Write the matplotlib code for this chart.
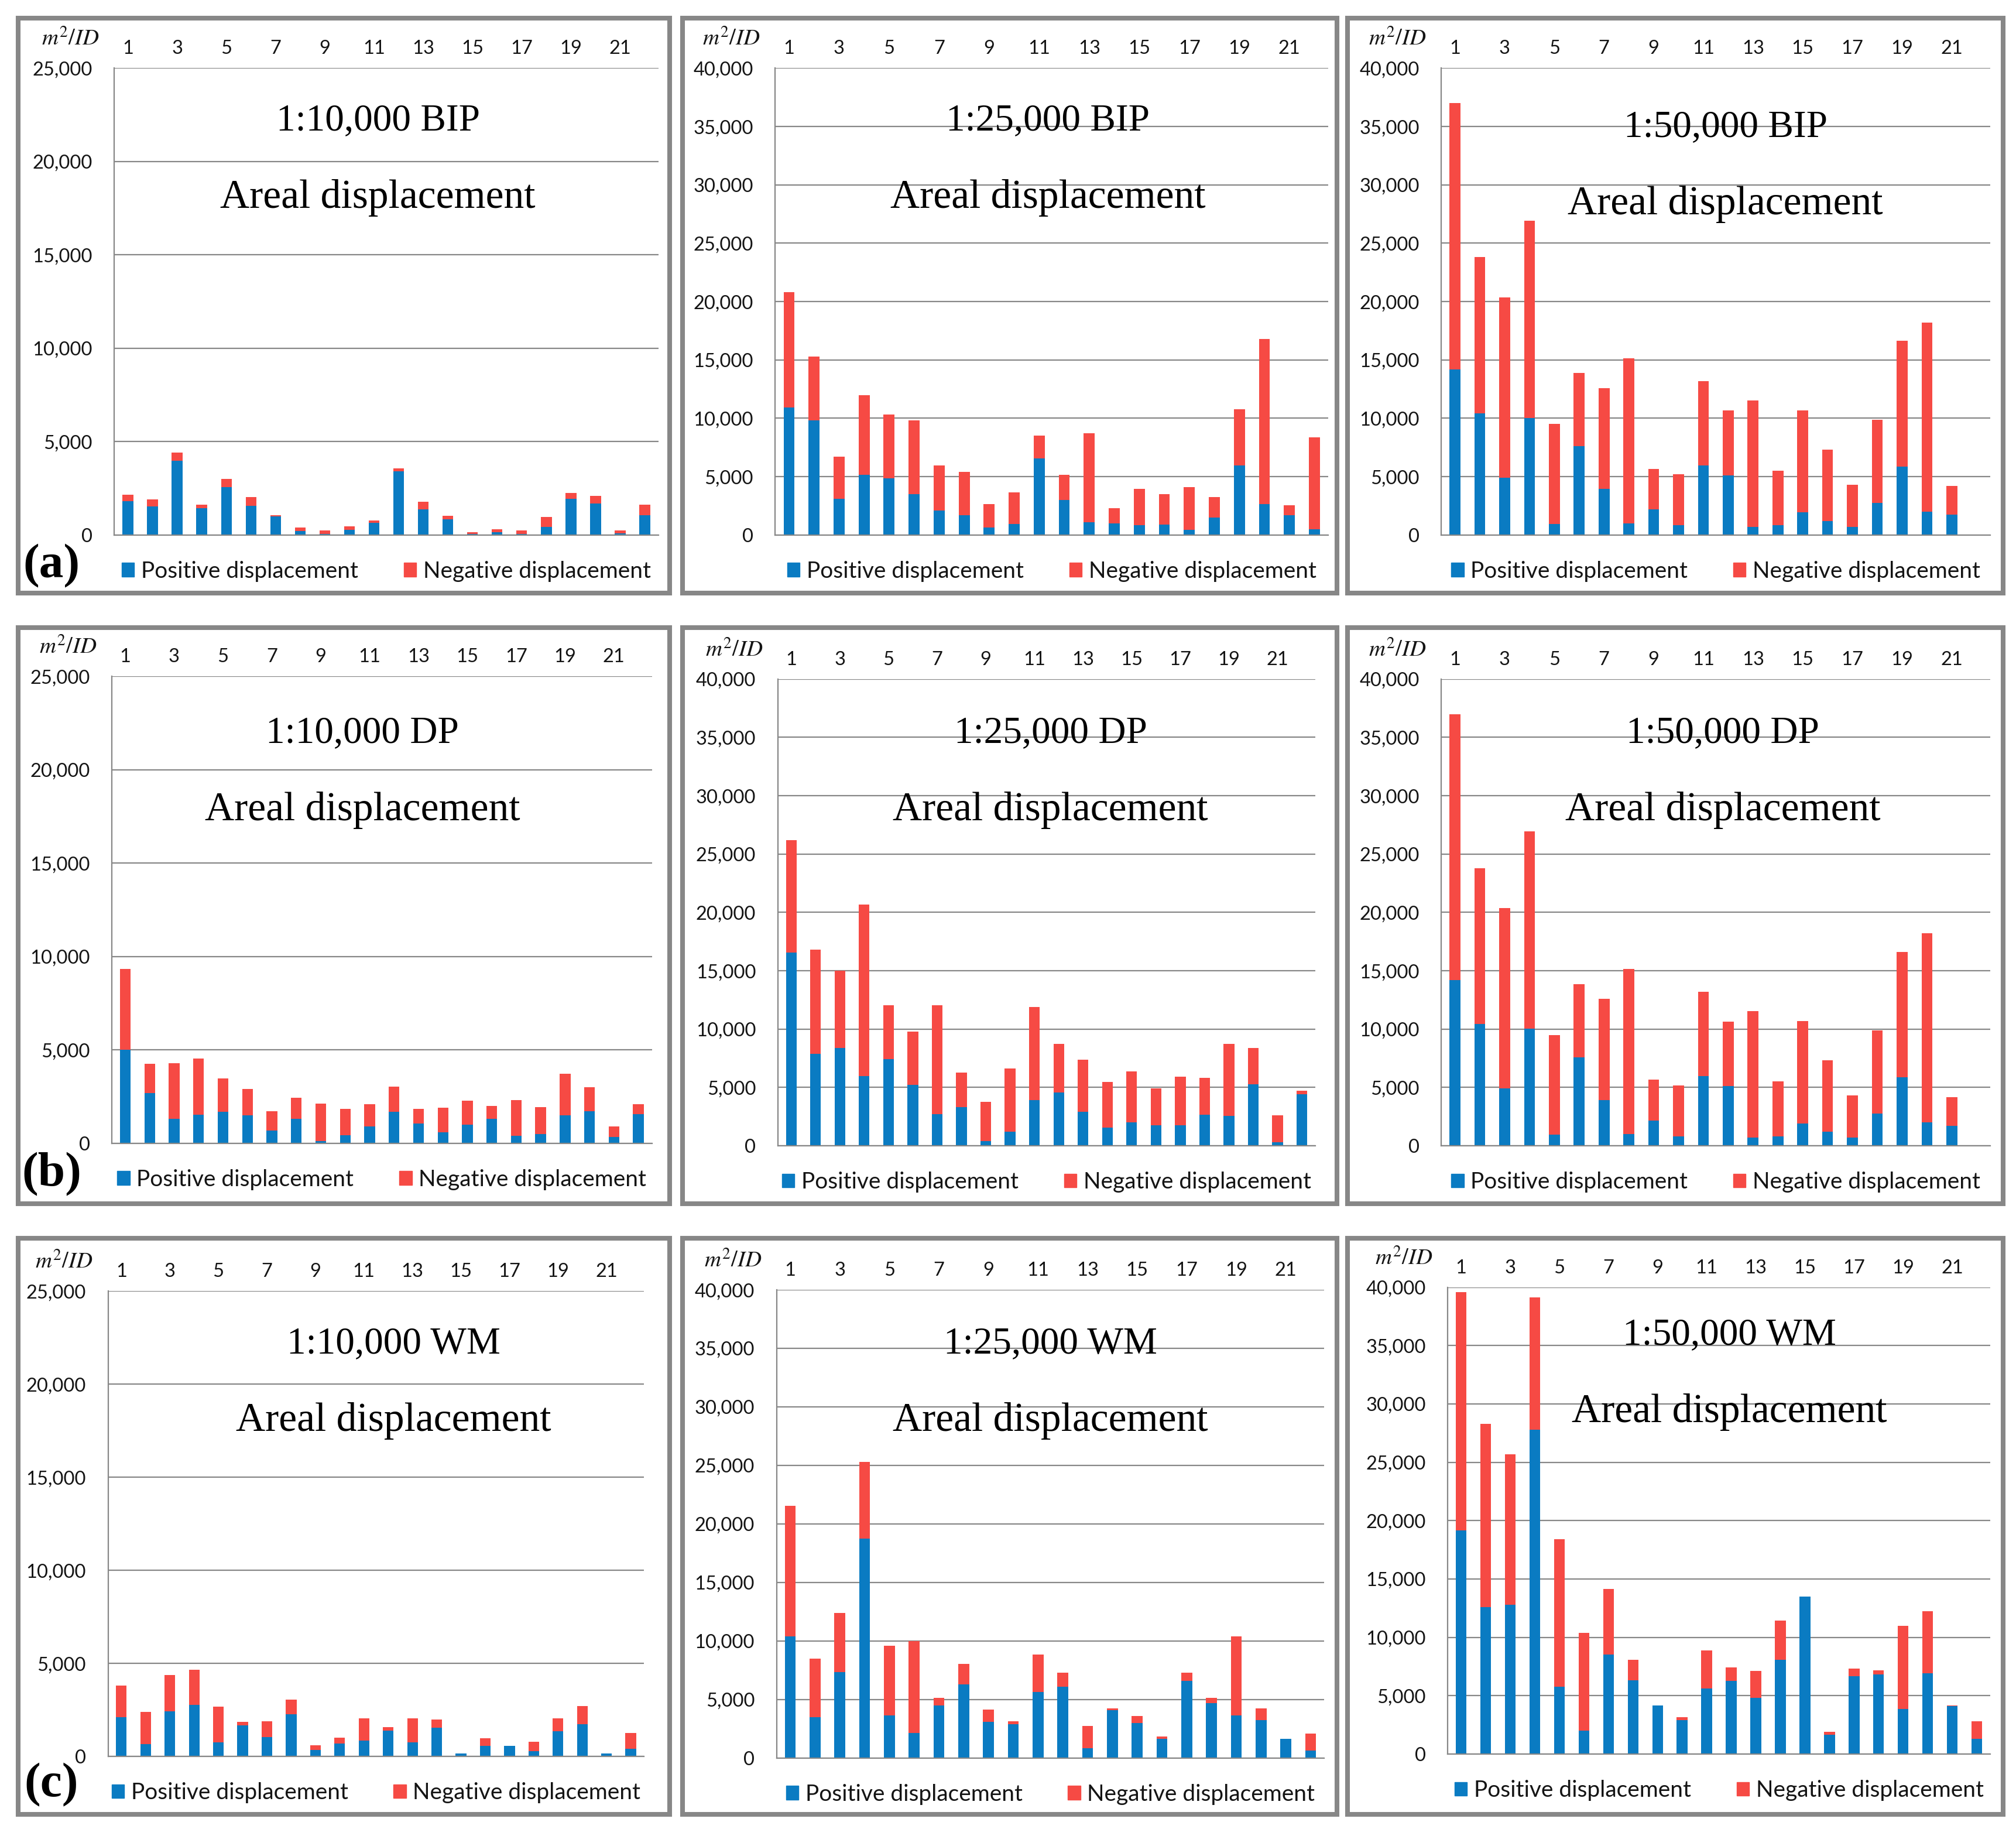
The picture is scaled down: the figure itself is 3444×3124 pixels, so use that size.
import matplotlib
matplotlib.use("Agg")
import matplotlib.pyplot as plt
from matplotlib.patches import Rectangle, Patch
from matplotlib.ticker import FuncFormatter

plt.rcParams['font.family'] = ['Lato', 'DejaVu Sans']
plt.rcParams['mathtext.fontset'] = 'stix'

ids = list(range(1, 23))
tick_ids = [1, 3, 5, 7, 9, 11, 13, 15, 17, 19, 21]

# 1:10,000 BIP
pos_10k_bip = [1810, 1530, 3970, 1430, 2550, 1570, 980, 200, 40, 270, 650, 3420, 1380, 830, 40, 160, 40, 430, 1940, 1670, 80, 1060]
neg_10k_bip = [350, 370, 430, 200, 440, 450, 80, 190, 200, 180, 120, 160, 390, 210, 100, 150, 200, 530, 300, 430, 160, 550]
# 1:25,000 BIP
pos_25k_bip = [10940, 9800, 3100, 5160, 4870, 3520, 2100, 1670, 630, 940, 6570, 2990, 1070, 1000, 850, 910, 440, 1510, 5940, 2640, 1670, 470]
neg_25k_bip = [9860, 5500, 3600, 6840, 5430, 6320, 3840, 3740, 2010, 2710, 1920, 2170, 7640, 1300, 3080, 2610, 3680, 1730, 4850, 14160, 880, 7890]
# 1:50,000 BIP (only 21 objects)
pos_50k_bip = [14200, 10440, 4900, 10030, 940, 7600, 3930, 1000, 2170, 820, 5970, 5100, 690, 820, 1920, 1190, 690, 2740, 5880, 2010, 1730]
neg_50k_bip = [22800, 13360, 15450, 16920, 8560, 6270, 8650, 14160, 3490, 4370, 7230, 5560, 10850, 4680, 8770, 6140, 3620, 7130, 10750, 16190, 2450]

# 1:10,000 DP
pos_10k_dp = [5000, 2690, 1300, 1540, 1680, 1500, 690, 1300, 120, 430, 910, 1680, 1050, 570, 1000, 1300, 410, 490, 1500, 1700, 320, 1560]
neg_10k_dp = [4340, 1560, 2990, 3000, 1780, 1400, 1030, 1130, 2010, 1410, 1180, 1340, 790, 1330, 1270, 690, 1900, 1450, 2230, 1300, 570, 530]
# 1:25,000 DP
pos_25k_dp = [16540, 7860, 8370, 5970, 7420, 5210, 2720, 3310, 410, 1230, 3910, 4550, 2900, 1580, 1990, 1770, 1770, 2650, 2560, 5270, 280, 4420]
neg_25k_dp = [9630, 8940, 6630, 14680, 4610, 4580, 9310, 2970, 3350, 5400, 7960, 4160, 4460, 3910, 4360, 3150, 4170, 3160, 6150, 3100, 2310, 320]
# 1:50,000 DP
pos_50k_dp = [14200, 10440, 4900, 10030, 940, 7600, 3930, 1000, 2170, 820, 5970, 5100, 690, 820, 1920, 1190, 690, 2740, 5880, 2010, 1730]
neg_50k_dp = [22800, 13360, 15450, 16920, 8560, 6270, 8650, 14160, 3490, 4370, 7230, 5560, 10850, 4680, 8770, 6140, 3620, 7130, 10750, 16190, 2450]

# 1:10,000 WM
pos_10k_wm = [2110, 670, 2420, 2780, 770, 1670, 1040, 2270, 350, 710, 870, 1380, 770, 1540, 160, 590, 590, 280, 1360, 1750, 180, 430]
neg_10k_wm = [1690, 1730, 1970, 1890, 1910, 200, 870, 800, 260, 310, 1200, 200, 1300, 450, 0, 380, 0, 510, 710, 950, 0, 850]
# 1:25,000 WM
pos_25k_wm = [10400, 3470, 7310, 18750, 3620, 2140, 4480, 6300, 3060, 2870, 5610, 6080, 850, 4070, 2990, 1610, 6590, 4700, 3620, 3250, 1640, 630]
neg_25k_wm = [11160, 5010, 5080, 6530, 5960, 7820, 660, 1740, 1070, 250, 3210, 1200, 1860, 180, 570, 220, 690, 440, 6750, 970, 0, 1450]
# 1:50,000 WM
pos_50k_wm = [19180, 12600, 12790, 27810, 5760, 2020, 8540, 6330, 4160, 2900, 5640, 6270, 4820, 8060, 13480, 1640, 6680, 6830, 3870, 6930, 4090, 1320]
neg_50k_wm = [20410, 15680, 12880, 11340, 12670, 8370, 5600, 1760, 0, 250, 3240, 1160, 2300, 3370, 0, 250, 630, 350, 7090, 5290, 70, 1510]

BLUE = '#0a7bc2'
RED = '#f64a44'
GRAY = '#878787'
TXT = '#141414'

W, H = 1568.0, 1422.3   # layout measured in a 1568 px wide copy of the figure

fig = plt.figure(figsize=(34.44, 31.24), dpi=100)

def fx(x):
    return x / W

def fy(y):
    return 1 - y / H

# panel frames
cols = [(14, 521), (531, 1040), (1048, 1558)]
rows = [(14, 461), (488, 936), (963, 1411)]
for (x0, x1) in cols:
    for (y0, y1) in rows:
        fig.patches.append(Rectangle((fx(x0), fy(y1)), fx(x1) - fx(x0), fy(y0) - fy(y1),
                                     transform=fig.transFigure, fill=False,
                                     edgecolor=GRAY, linewidth=5.8, zorder=0))

panels = [
    # name, pos, neg, ymax, axes box (x0, x1, ytop, ybottom), title y, title x
    ("1:10,000 BIP", pos_10k_bip, neg_10k_bip, 25000, (89, 512, 53, 416), 94, 294),
    ("1:25,000 BIP", pos_25k_bip, neg_25k_bip, 40000, (603, 1033, 53, 416), 94, 815),
    ("1:50,000 BIP", pos_50k_bip, neg_50k_bip, 40000, (1121, 1548, 53, 416), 99, 1342),
    ("1:10,000 DP", pos_10k_dp, neg_10k_dp, 25000, (87, 507, 526, 889), 570, 282),
    ("1:25,000 DP", pos_25k_dp, neg_25k_dp, 40000, (605, 1023, 528, 891), 570, 817),
    ("1:50,000 DP", pos_50k_dp, neg_50k_dp, 40000, (1121, 1548, 528, 891), 570, 1340),
    ("1:10,000 WM", pos_10k_wm, neg_10k_wm, 25000, (84, 501, 1004, 1366), 1045, 306),
    ("1:25,000 WM", pos_25k_wm, neg_25k_wm, 40000, (604, 1030, 1003, 1367), 1045, 817),
    ("1:50,000 WM", pos_50k_wm, neg_50k_wm, 40000, (1126, 1548, 1001, 1364), 1038, 1345),
]

fmt = FuncFormatter(lambda v, p: f"{int(v):,}")

for name, pos, neg, ymax, (x0, x1, yt, yb), ty, tx in panels:
    ax = fig.add_axes([fx(x0), fy(yb), fx(x1) - fx(x0), fy(yt) - fy(yb)])
    n = len(pos)
    ax.bar(ids[:n], pos, width=0.44, color=BLUE, zorder=3)
    ax.bar(ids[:n], neg, width=0.44, bottom=pos, color=RED, zorder=3)
    ax.set_xlim(0.45, 22.55)
    ax.set_ylim(0, ymax)
    ax.set_yticks(range(0, ymax + 1, 5000))
    ax.yaxis.set_major_formatter(fmt)
    ax.xaxis.tick_top()
    ax.set_xticks(tick_ids)
    ax.set_xticklabels([str(i) for i in tick_ids])
    ax.tick_params(axis='x', length=0, pad=13, labelsize=23.5, colors=TXT)
    ax.tick_params(axis='y', length=0, pad=27, labelsize=23.5, colors=TXT)
    ax.grid(axis='y', color=GRAY, linewidth=1.6, zorder=1)
    for s in ['top', 'right']:
        ax.spines[s].set_visible(False)
    for s in ['left', 'bottom']:
        ax.spines[s].set_color(GRAY)
        ax.spines[s].set_linewidth(1.6)
        ax.spines[s].set_zorder(4)

    handles = [Patch(color=BLUE, label='Positive displacement'),
               Patch(color=RED, label='Negative displacement')]
    leg = ax.legend(handles=handles, loc='center', ncol=2, frameon=False,
                    bbox_to_anchor=(0.5, -0.078), fontsize=28,
                    handlelength=0.55, handleheight=0.55, handletextpad=0.3,
                    columnspacing=2.0, borderaxespad=0)
    for t in leg.get_texts():
        t.set_color(TXT)

    fig.text(fx(tx), fy(ty), name, ha='center', va='center',
             family='Liberation Serif', fontsize=47, color='black')
    fig.text(fx(tx), fy(ty + 60), 'Areal displacement', ha='center', va='center',
             family='Liberation Serif', fontsize=50, color='black')
    fig.text(fx(x0 - 34), fy(yt - 23), r'$m^2/ID$', ha='center', va='center',
             fontsize=28, color=TXT)

for letter, y in zip(['(a)', '(b)', '(c)'], [440, 913, 1388]):
    fig.text(fx(40), fy(y), letter, ha='center', va='center',
             family='Liberation Serif', fontsize=60, fontweight='bold', color='black')

fig.savefig('out.png', dpi=100, facecolor='white')
